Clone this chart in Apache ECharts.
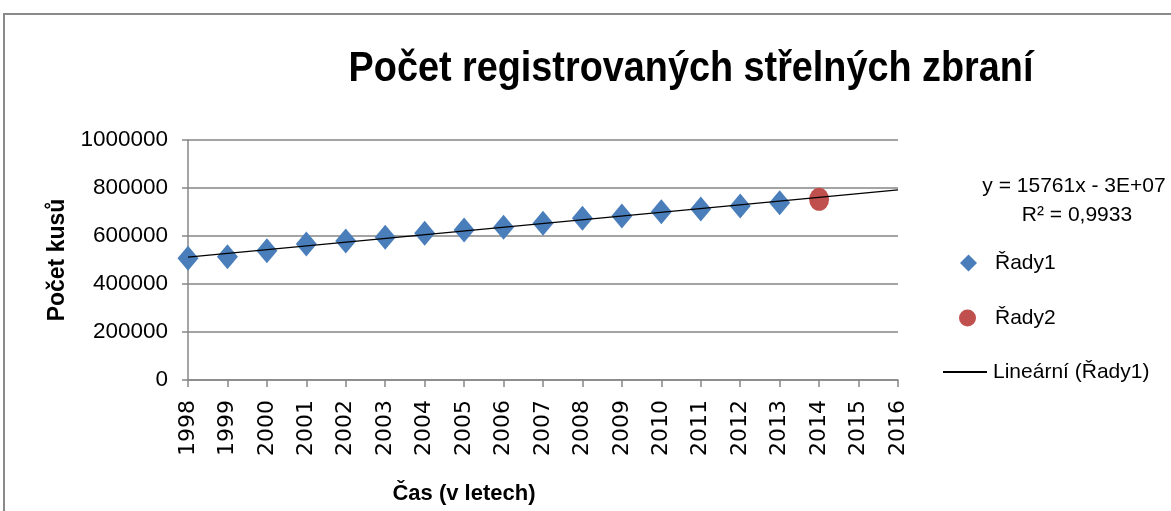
<!DOCTYPE html>
<html>
<head>
<meta charset="utf-8">
<script src="https://cdn.jsdelivr.net/npm/echarts@6/dist/echarts.min.js"></script>
<style>
  html, body { margin: 0; padding: 0; background: #fff; }
  #chart { width: 1171px; height: 511px; }
</style>
</head>
<body>
<div id="chart"></div>
<script>
// roky a hodnoty
const years1 = [1998, 1999, 2000, 2001, 2002, 2003, 2004, 2005, 2006, 2007, 2008, 2009, 2010, 2011, 2012, 2013];
const rady1 = [507000, 514000, 539000, 567000, 579000, 595000, 611000, 625000, 636000, 653000, 674000, 683000, 701000, 713000, 725000, 739000];
const years2 = [2014];
const rady2 = [753000];
const trendRange = [1998, 2016];
const eqLines = ['y = 15761x - 3E+07', 'R² = 0,9933'];

// lineární trend přes Řady1 (nejmenší čtverce)
const n = years1.length;
const mx = years1.reduce((a, b) => a + b, 0) / n;
const my = rady1.reduce((a, b) => a + b, 0) / n;
let sxy = 0, sxx = 0;
years1.forEach((x, i) => { sxy += (x - mx) * (rady1[i] - my); sxx += (x - mx) * (x - mx); });
const slope = sxy / sxx;
const icpt = my - slope * mx;
const trend = trendRange.map(x => [x, icpt + slope * x]);

const chart = echarts.init(document.getElementById('chart'));

const legendText = { fontFamily: 'Liberation Sans', fontSize: 21, color: '#000', lineHeight: 24 };

const option = {
  animation: false,
  grid: { left: 188, right: 273, top: 140, bottom: 131 },
  graphic: [
    { type: 'rect', shape: { x: 4, y: 14, width: 1300, height: 700 }, style: { fill: 'none', stroke: '#8a8a8a', lineWidth: 2 } },
    { type: 'text', x: 691, y: 69, scaleX: 0.9, style: { text: 'Počet registrovaných střelných zbraní', fontFamily: 'Liberation Sans', fontWeight: 'bold', fontSize: 42, fill: '#000', textAlign: 'center', textVerticalAlign: 'middle' } },
    { type: 'text', x: 464, y: 494, style: { text: 'Čas (v letech)', fontFamily: 'Liberation Sans', fontWeight: 'bold', fontSize: 22, fill: '#000', textAlign: 'center', textVerticalAlign: 'middle' } },
    { type: 'text', x: 1074, y: 186, style: { text: eqLines[0], fontFamily: 'Liberation Sans', fontSize: 21, fill: '#000', textAlign: 'center', textVerticalAlign: 'middle' } },
    { type: 'text', x: 1077, y: 215, style: { text: eqLines[1], fontFamily: 'Liberation Sans', fontSize: 21, fill: '#000', textAlign: 'center', textVerticalAlign: 'middle' } }
  ],
  legend: [
    { left: 955, top: 246, itemWidth: 17, itemHeight: 17, data: [{ name: 'Řady1', icon: 'diamond' }], textStyle: Object.assign({ padding: [0, 0, 0, 13] }, legendText) },
    { left: 954, top: 301, itemWidth: 17, itemHeight: 17, data: [{ name: 'Řady2', icon: 'circle' }], textStyle: Object.assign({ padding: [0, 0, 0, 14] }, legendText) },
    { left: 938, top: 355, itemWidth: 44, itemHeight: 2, data: [{ name: 'Lineární (Řady1)', icon: 'rect' }], textStyle: Object.assign({ padding: [0, 0, 0, 1] }, legendText) }
  ],
  xAxis: {
    type: 'value',
    min: 1998,
    max: 2016,
    interval: 1,
    axisLine: { show: true, lineStyle: { color: '#868686', width: 1.5 } },
    axisTick: { show: true, length: 7, lineStyle: { color: '#868686', width: 1.5 } },
    splitLine: { show: false },
    axisLabel: { rotate: 90, margin: 20, fontFamily: 'DejaVu Sans', fontSize: 22, color: '#000', formatter: v => String(v) }
  },
  yAxis: {
    type: 'value',
    min: 0,
    max: 1000000,
    interval: 200000,
    name: 'Počet kusů',
    nameLocation: 'middle',
    nameGap: 115,
    nameTextStyle: { fontFamily: 'Liberation Sans', fontWeight: 'bold', fontSize: 23, color: '#000' },
    axisLine: { show: true, lineStyle: { color: '#868686', width: 1.5 } },
    axisTick: { show: true, length: 6, lineStyle: { color: '#868686', width: 1.5 } },
    splitLine: { show: true, lineStyle: { color: '#868686', width: 1.5 } },
    axisLabel: { margin: 20, fontFamily: 'Liberation Sans', fontSize: 22.5, color: '#000', formatter: v => String(v) }
  },
  series: [
    {
      name: 'Řady1',
      type: 'scatter',
      symbol: 'diamond',
      symbolSize: [21, 25],
      itemStyle: { color: '#4a7ebb', opacity: 1 },
      data: years1.map((x, i) => [x, rady1[i]]),
      z: 2
    },
    {
      name: 'Řady2',
      type: 'scatter',
      symbol: 'circle',
      symbolSize: [20, 23],
      itemStyle: { color: '#c0504d', opacity: 1 },
      data: years2.map((x, i) => [x, rady2[i]]),
      z: 2
    },
    {
      name: 'Lineární (Řady1)',
      type: 'line',
      showSymbol: false,
      color: '#000',
      lineStyle: { color: '#000', width: 1.3 },
      data: trend,
      z: 3
    }
  ]
};
chart.setOption(option);
</script>
</body>
</html>
